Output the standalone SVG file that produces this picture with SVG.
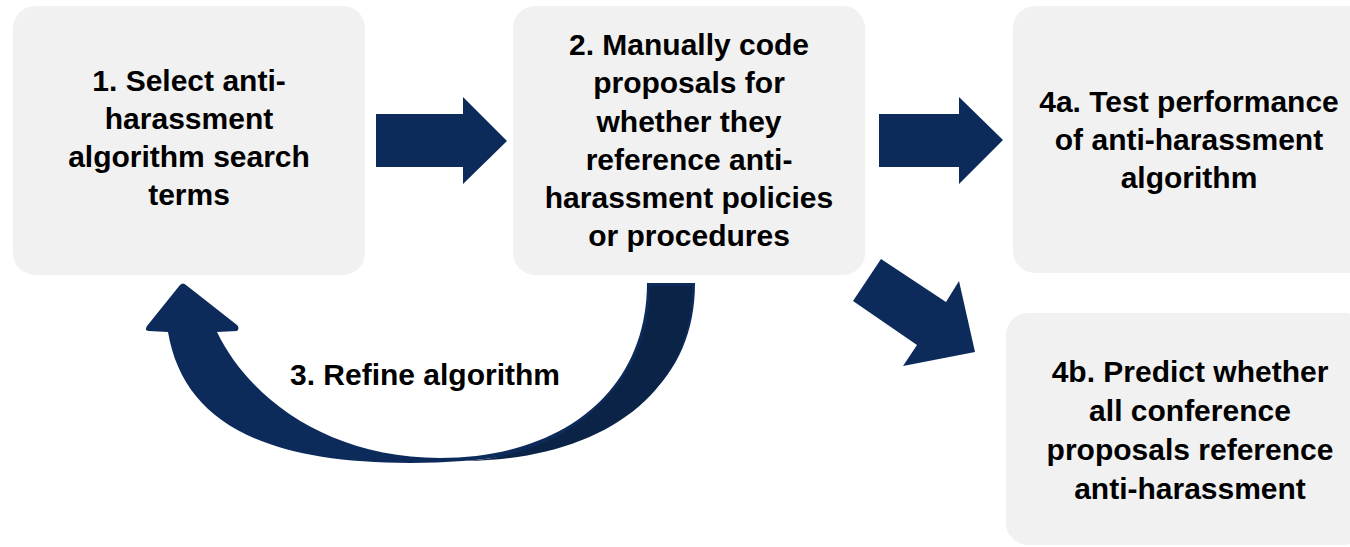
<svg xmlns="http://www.w3.org/2000/svg" width="1350" height="547" viewBox="0 0 1350 547">
  <style>
    .box { fill: #f1f1f1; }
    .lbl { font-family: "Liberation Sans", Arial, sans-serif; font-weight: bold; font-size: 30px; fill: #000; text-anchor: middle; }
    .arrow { fill: #0c2b5b; }
    .dark { fill: #0a2347; }
  </style>
  <rect width="1350" height="547" fill="#ffffff"/>

  <g id="node1">
    <rect class="box" x="13" y="6" width="352" height="269" rx="22" ry="22"/>
    <text class="lbl" x="189" y="91">1. Select anti-</text>
    <text class="lbl" x="189" y="129">harassment</text>
    <text class="lbl" x="189" y="167">algorithm search</text>
    <text class="lbl" x="189" y="205">terms</text>
  </g>

  <g id="node2">
    <rect class="box" x="513" y="6" width="352" height="269" rx="22" ry="22"/>
    <text class="lbl" x="689" y="55">2. Manually code</text>
    <text class="lbl" x="689" y="93">proposals for</text>
    <text class="lbl" x="689" y="132">whether they</text>
    <text class="lbl" x="689" y="170">reference anti-</text>
    <text class="lbl" x="689" y="208">harassment policies</text>
    <text class="lbl" x="689" y="246">or procedures</text>
  </g>

  <g id="node4a">
    <rect class="box" x="1013" y="6" width="360" height="267" rx="22" ry="22"/>
    <text class="lbl" x="1189" y="112">4a. Test performance</text>
    <text class="lbl" x="1189" y="150">of anti-harassment</text>
    <text class="lbl" x="1189" y="188">algorithm</text>
  </g>

  <g id="node4b">
    <rect class="box" x="1006" y="313" width="360" height="232" rx="22" ry="22"/>
    <text class="lbl" x="1190" y="382">4b. Predict whether</text>
    <text class="lbl" x="1190" y="421">all conference</text>
    <text class="lbl" x="1190" y="460">proposals reference</text>
    <text class="lbl" x="1190" y="499">anti-harassment</text>
  </g>

  <g id="connectors">
    <polygon class="arrow" points="376,114 463,114 463,97 507,141 463,184 463,167 376,167"/>
    <polygon class="arrow" points="879,114 959,114 959,97 1003,140 959,184 959,167 879,167"/>
    <polygon class="arrow" points="881,259 946,302 959,281 975,352 903,366 917,345 853,301"/>
    <path class="arrow" d="M 168 332 C 183 420 260 463 410 463 C 590 463 695 403 695 283 L 647 283 C 647 393 560 458 440 458 C 330 458 250 400 217 332 L 237 331 Q 240 328 237 325 L 186 285 Q 183 282 180 285 L 147 326 Q 144 331 149 331 Z"/>
    <path class="dark" d="M 650 286 L 692 286 C 692 403 590 460 465 461 C 570 455 650 385 650 286 Z"/>
    <text class="lbl" x="425" y="385">3. Refine algorithm</text>
  </g>
</svg>
